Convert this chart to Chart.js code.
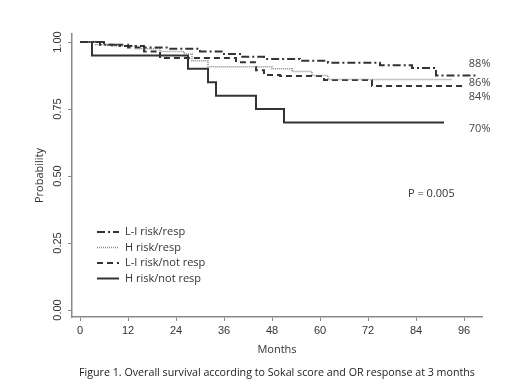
<!DOCTYPE html>
<html>
<head>
<meta charset="utf-8">
<script src="https://cdn.jsdelivr.net/npm/chart.js@4"></script>
<style>
  html, body { margin: 0; padding: 0; background: #fff; }
  #wrap { width: 520px; height: 390px; position: relative; }
</style>
</head>
<body>
<div id="wrap"><canvas id="kmChart" width="520" height="390"></canvas></div>
<script>
// Kaplan-Meier steps: [month, survival]
const liRespMonths   = [0, 5, 10, 16, 22, 30, 36, 40, 46, 55, 62, 75, 83, 89, 99];
const liRespSurv     = [1.00, 0.99, 0.985, 0.98, 0.975, 0.965, 0.955, 0.945, 0.937, 0.93, 0.923, 0.913, 0.903, 0.875, 0.875];

const hRespMonths    = [0, 4, 8, 14, 20, 26, 28, 32, 48, 53, 58, 62, 93];
const hRespSurv      = [1.00, 0.99, 0.985, 0.975, 0.965, 0.955, 0.93, 0.908, 0.90, 0.89, 0.875, 0.86, 0.86];

const liNotMonths    = [0, 6, 12, 16, 20, 39, 44, 46, 50, 61, 73, 96];
const liNotSurv      = [1.00, 0.99, 0.98, 0.965, 0.94, 0.925, 0.895, 0.877, 0.873, 0.858, 0.836, 0.836];

const hNotMonths     = [0, 3, 27, 32, 34, 44, 51, 91];
const hNotSurv       = [1.00, 0.95, 0.90, 0.85, 0.80, 0.75, 0.70, 0.70];

const seriesNames    = ['L-I risk/resp', 'H risk/resp', 'L-I risk/not resp', 'H risk/not resp'];
const endLabels      = ['88%', '86%', '84%', '70%'];
const endLabelY      = [0.918, 0.847, 0.795, 0.675];
const yTickValues    = [0, 0.25, 0.5, 0.75, 1];
const yTickLabels    = ['0.00', '0.25', '0.50', '0.75', '1.00'];

function toPoints(xs, ys) {
  return xs.map((x, i) => ({ x: x, y: ys[i] }));
}

const axisColor = '#8a8a8a';

// draws rotated y labels, legend, end labels, p-value and caption
const extrasPlugin = {
  id: 'extras',
  afterDraw: function(chart) {
    const ctx = chart.ctx;
    const xs = chart.scales.x;
    const ys = chart.scales.y;
    ctx.save();

    // y tick labels, rotated like the original
    ctx.fillStyle = '#333';
    ctx.font = '11px "Liberation Sans", Arial, sans-serif';
    ctx.textAlign = 'center';
    ctx.textBaseline = 'middle';
    yTickValues.forEach((v, i) => {
      ctx.save();
      ctx.translate(58, ys.getPixelForValue(v));
      ctx.rotate(-Math.PI / 2);
      ctx.fillText(yTickLabels[i], 0, 0);
      ctx.restore();
    });

    // legend inside plot
    ctx.textAlign = 'left';
    ctx.font = '11px "Open Sans", sans-serif';
    chart.data.datasets.forEach((ds, i) => {
      const y = 232 + i * 15.5;
      ctx.save();
      ctx.strokeStyle = ds.borderColor;
      ctx.lineWidth = ds.borderWidth;
      ctx.setLineDash(ds.borderDash || []);
      ctx.beginPath();
      ctx.moveTo(97, y);
      ctx.lineTo(119, y);
      ctx.stroke();
      ctx.restore();
      ctx.fillStyle = '#333';
      ctx.fillText(ds.label, 125, y);
    });

    // end percentages
    ctx.fillStyle = '#444';
    endLabels.forEach((t, i) => {
      ctx.fillText(t, xs.getPixelForValue(97.2), ys.getPixelForValue(endLabelY[i]));
    });

    // p-value
    ctx.fillStyle = '#333';
    ctx.fillText('P = 0.005', 408, 194);

    // caption
    ctx.font = '10.7px "Open Sans", sans-serif';
    ctx.fillStyle = '#222';
    ctx.textAlign = 'center';
    ctx.fillText('Figure 1. Overall survival according to Sokal score and OR response at 3 months', 277, 373);

    ctx.restore();
  }
};

new Chart(document.getElementById('kmChart'), {
  type: 'line',
  data: {
    datasets: [
      {
        label: seriesNames[0],
        data: toPoints(liRespMonths, liRespSurv),
        borderColor: '#333',
        borderWidth: 2,
        borderDash: [8, 3, 2, 3],
        stepped: 'before',
        pointRadius: 0
      },
      {
        label: seriesNames[1],
        data: toPoints(hRespMonths, hRespSurv),
        borderColor: '#8a8a8a',
        borderWidth: 1.5,
        borderDash: [1, 1],
        stepped: 'before',
        pointRadius: 0
      },
      {
        label: seriesNames[2],
        data: toPoints(liNotMonths, liNotSurv),
        borderColor: '#333',
        borderWidth: 2,
        borderDash: [6, 4],
        stepped: 'before',
        pointRadius: 0
      },
      {
        label: seriesNames[3],
        data: toPoints(hNotMonths, hNotSurv),
        borderColor: '#333',
        borderWidth: 2,
        stepped: 'before',
        pointRadius: 0
      }
    ]
  },
  options: {
    responsive: false,
    animation: false,
    layout: { padding: { top: 34, right: 38, left: 0, bottom: 0 } },
    plugins: {
      legend: { display: false },
      tooltip: { enabled: false }
    },
    scales: {
      x: {
        type: 'linear',
        min: -2,
        max: 100.5,
        afterFit: function(s) { s.height = 73; },
        grid: { display: true, drawOnChartArea: false, tickLength: 4, color: axisColor },
        border: { display: true, color: axisColor, width: 1.5 },
        ticks: {
          stepSize: 12,
          includeBounds: false,
          color: '#333',
          padding: 3,
          font: { size: 11, family: '"Liberation Sans", Arial, sans-serif' },
          maxRotation: 0
        },
        title: {
          display: true,
          text: 'Months',
          color: '#333',
          padding: { top: 0, bottom: 34 },
          font: { size: 11, family: '"Open Sans", sans-serif' }
        }
      },
      y: {
        type: 'linear',
        min: -0.026,
        max: 1.03,
        afterFit: function(s) { s.width = 72; },
        grid: { display: true, drawOnChartArea: false, tickLength: 4, color: axisColor },
        border: { display: true, color: axisColor, width: 1.5 },
        ticks: {
          stepSize: 0.25,
          includeBounds: false,
          display: false
        },
        title: {
          display: true,
          text: 'Probability',
          color: '#333',
          padding: { top: 33, bottom: 0 },
          font: { size: 11, family: '"Open Sans", sans-serif' }
        }
      }
    }
  },
  plugins: [extrasPlugin]
});
</script>
</body>
</html>
